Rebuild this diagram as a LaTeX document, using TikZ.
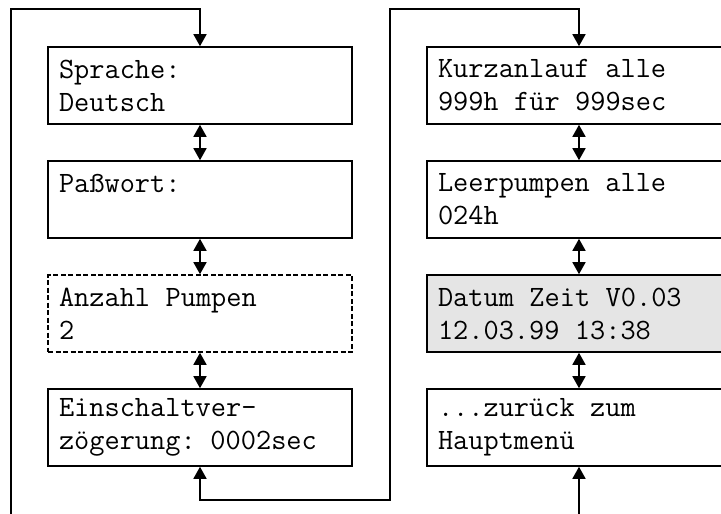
\documentclass[tikz,border=0pt]{standalone}
\usepackage{fontspec}
\usetikzlibrary{arrows.meta,positioning}

\newcommand\menufont{\ttfamily\fontsize{29.5}{33}\selectfont}

\tikzset{
  menu/.style={draw,rectangle,minimum width=304pt,minimum height=77pt,
    text width=282pt,inner xsep=11pt,align=left,font=\menufont,
    execute at begin node={\spaceskip=15.5pt\relax}},
  tip/.style={-{Triangle[width=13pt,length=12pt]}},
  twotip/.style={{Triangle[width=13pt,length=12pt]}-{Triangle[width=13pt,length=12pt]}}
}

\begin{document}
\begin{tikzpicture}[x=1pt,y=-1pt,line width=1.6pt,node distance=114pt,on grid]
  \useasboundingbox (0,0) rectangle (721,514);
  \clip (0,0) rectangle (721,514);

  \node[menu] (sprache) at (200,85.5) {Sprache:\\Deutsch};
  \node[menu] (passwort) [below=of sprache] {Paßwort:\\\mbox{}};
  \node[menu,dash pattern=on 5pt off 2.5pt] (pumpen) [below=of passwort] {Anzahl Pumpen\\2};
  \node[menu] (einschalt) [below=of pumpen] {Einschaltver-\\zögerung: 0002sec};

  \node[menu] (kurz) [right=379pt of sprache] {Kurzanlauf alle\\999h für 999sec};
  \node[menu] (leer) [below=of kurz] {Leerpumpen alle\\024h};
  \node[menu,fill=gray!20] (datum) [below=of leer] {Datum Zeit V0.03\\12.03.99 13:38};
  \node[menu] (zurueck) [below=of datum] {...zurück zum\\Hauptmenü};

  \coordinate (ltop) at (11,9);
  \coordinate (lbot) at (11,520);
  \coordinate (mtop) at (390,9);
  \coordinate (mbot) at (390,500);
  \coordinate (rbot) at ([yshift=-60pt]zurueck.south);

  \path[twotip]
    (sprache) edge (passwort)
    (passwort) edge (pumpen)
    (pumpen) edge (einschalt)
    (kurz) edge (leer)
    (leer) edge (datum)
    (datum) edge (zurueck);

  \draw[tip] (lbot) -- (ltop) -| (sprache.north);
  \draw[twotip] (einschalt.south) |- (mbot) -- (mtop) -| (kurz.north);
  \draw[tip] (rbot) -- (zurueck.south);
\end{tikzpicture}
\end{document}
